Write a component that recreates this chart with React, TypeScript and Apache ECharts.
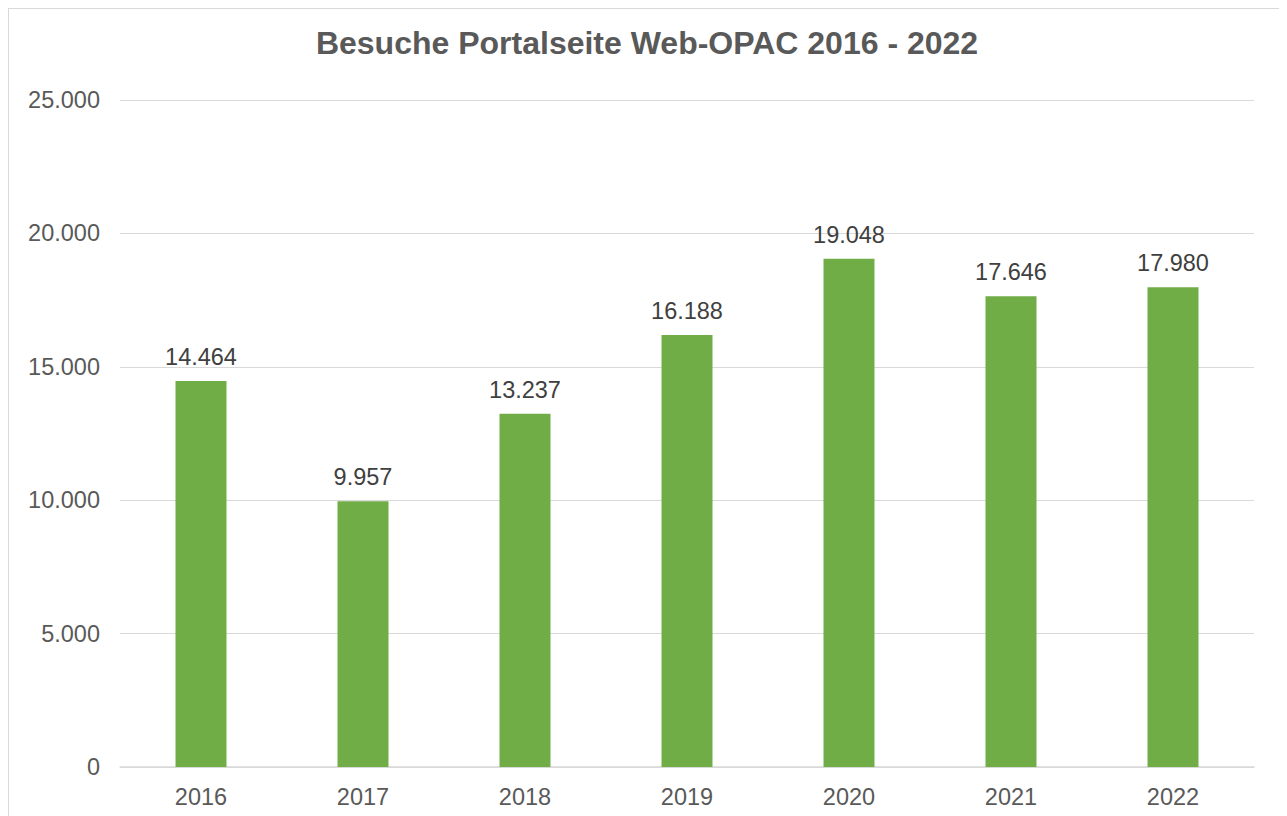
import React, { useEffect, useRef } from "react";
import * as echarts from "echarts";

const categories = ["2016", "2017", "2018", "2019", "2020", "2021", "2022"];
const visits = [14464, 9957, 13237, 16188, 19048, 17646, 17980];
const yTicks = { min: 0, max: 25000, interval: 5000 };

const fmt = (v: number) => String(Math.round(v)).replace(/\B(?=(\d{3})+(?!\d))/g, ".");
const FONT = "Liberation Sans, Arial, sans-serif";

export default function App() {
  const ref = useRef<HTMLDivElement>(null);
  useEffect(() => {
    const chart = echarts.init(ref.current!, null, { renderer: "svg" });
    chart.setOption({
      animation: false,
      backgroundColor: "#ffffff",
      title: {
        text: "Besuche Portalseite Web-OPAC 2016 - 2022",
        left: "center",
        top: 18,
        padding: 0,
        textStyle: { fontFamily: FONT, fontSize: 32, fontWeight: "bold", color: "#595959" },
      },
      grid: { left: 111, top: 91, width: 1134, height: 667, containLabel: false },
      xAxis: {
        type: "category",
        data: categories,
        axisLine: { lineStyle: { color: "#d9d9d9", width: 1.5 } },
        axisTick: { show: false },
        axisLabel: { color: "#595959", fontSize: 23.5, fontFamily: FONT, margin: 18 },
      },
      yAxis: {
        type: "value",
        min: yTicks.min,
        max: yTicks.max,
        interval: yTicks.interval,
        axisLine: { show: false },
        axisTick: { show: false },
        splitLine: { lineStyle: { color: "#d9d9d9", width: 1 } },
        axisLabel: { color: "#595959", fontSize: 23.5, fontFamily: FONT, margin: 20, formatter: (v: number) => fmt(v) },
      },
      series: [
        {
          type: "bar",
          data: visits,
          barWidth: 51,
          itemStyle: { color: "#70AD47" },
          label: {
            show: true,
            position: "top",
            distance: 12,
            color: "#404040",
            fontSize: 23.5,
            fontFamily: FONT,
            formatter: (p: any) => fmt(p.value),
          },
        },
      ],
    });
    return () => chart.dispose();
  }, []);
  return (
    <div style={{ width: 1278, height: 830, border: "1px solid #d9d9d9", boxSizing: "border-box" }}>
      <div ref={ref} style={{ width: 1276, height: 828 }} />
    </div>
  );
}
